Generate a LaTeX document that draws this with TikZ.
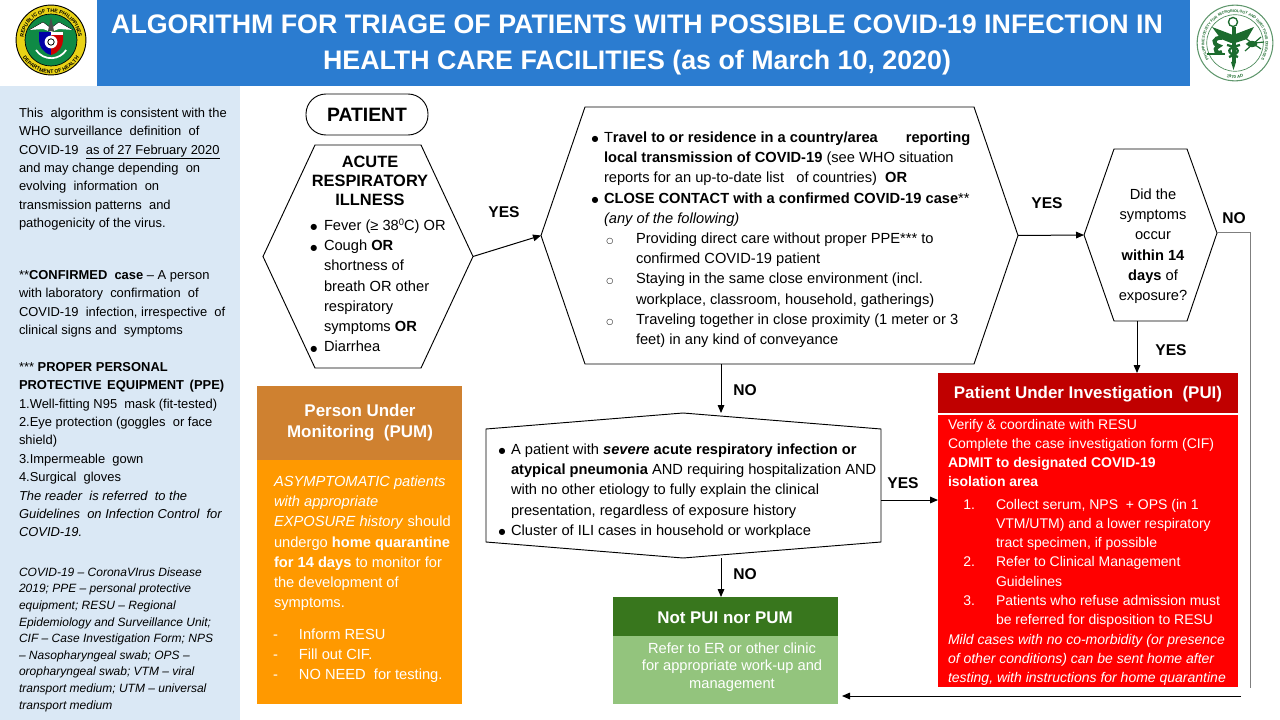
\documentclass[tikz,border=0pt]{standalone}
\usepackage{fontspec}
\setmainfont{Liberation Sans}
\newfontfamily\dejavu{DejaVu Sans}
\usetikzlibrary{calc,arrows.meta,decorations.text}
\definecolor{hdrblue}{HTML}{2B7CD0}
\definecolor{sideblue}{HTML}{DAE8F5}
\definecolor{pumhead}{HTML}{CF8130}
\definecolor{pumbody}{HTML}{FF9900}
\definecolor{puihead}{HTML}{C00000}
\definecolor{puibody}{HTML}{FF0000}
\definecolor{nothead}{HTML}{38761D}
\definecolor{notbody}{HTML}{93C47D}
\definecolor{seal}{HTML}{0F8A45}
\definecolor{sealy}{HTML}{E9D215}
\definecolor{psmid}{HTML}{1C6B2E}
\definecolor{greyline}{HTML}{7F7F7F}
\tikzset{
  x=0.75pt,y=-0.75pt,
  tx/.style={anchor=north west,inner sep=0pt,outer sep=0pt,align=left},
  tc/.style={anchor=north,inner sep=0pt,outer sep=0pt,align=center},
  fside/.style={font=\fontsize{9.7}{13.8}\selectfont},
  fsmall/.style={font=\fontsize{9}{12.45}\selectfont\itshape},
  fbody/.style={font=\fontsize{11}{15.2}\selectfont},
  fpui/.style={font=\fontsize{10.5}{14.4}\selectfont},
  fnot/.style={font=\fontsize{11}{13.1}\selectfont},
  lab/.style={inner sep=0pt,font=\fontsize{11.7}{14}\selectfont\bfseries},
  hdr/.style={inner sep=0pt,align=center,text=white,font=\fontsize{12.7}{15.7}\selectfont\bfseries},
  flow/.style={line width=0.75pt,-{Triangle[length=6pt,width=5pt]}},
  hexline/.style={line width=0.7pt,draw=black},
  greyflow/.style={line width=0.75pt,draw=greyline},
}
\newcommand{\region}[6][]{%
  \pgfmathsetmacro\rcx{(#3+#5)/2}\pgfmathsetmacro\rcy{(#4+#6)/2}%
  \pgfmathsetmacro\rw{(#5-#3)*0.75}\pgfmathsetmacro\rh{(#6-#4)*0.75}%
  \node[inner sep=0pt,outer sep=0pt,minimum width=\rw pt,minimum height=\rh pt,#1] (#2) at (\rcx,\rcy) {};}
\newcommand{\hexa}[2]{%
  \draw[hexline] (#1.west) -- ($(#1.north west)+(#2,0)$) -- ($(#1.north east)+(-#2,0)$) -- (#1.east)
   -- ($(#1.south east)+(-#2,0)$) -- ($(#1.south west)+(#2,0)$) -- cycle;}
\newcommand{\tb}[5][]{\node[tx,#1] (#2) at (#3,#4) {\rule{0pt}{10pt}#5};}
\newcommand{\tcb}[5][]{\node[tc,#1] (#2) at (#3,#4) {\rule{0pt}{10pt}#5};}
\newcommand{\bul}[1][4pt]{\llap{\raisebox{0.4pt}{\dejavu\fontsize{6}{6}\selectfont ●}\hspace{#1}}}
\newcommand{\sq}{\dejavu\fontsize{6}{6}\selectfont ○}
\begin{document}
\begin{tikzpicture}
\useasboundingbox (0,0) rectangle (1280,720);
% bands
\region[fill=hdrblue]{hdr}{97}{0}{1190}{86}
\region[fill=sideblue]{side}{0}{86}{240}{720}
\node[inner sep=0pt,align=center,text=white,font=\fontsize{20.1}{27}\selectfont\bfseries] (title) at (637,45)
  {ALGORITHM FOR TRIAGE OF PATIENTS WITH POSSIBLE COVID-19 INFECTION IN\\HEALTH CARE FACILITIES (as of March 10, 2020)};
% left logo
\begin{scope}[shift={(51,40)},y=0.75pt]
  \fill[sealy] (0,0) circle (26.2pt);
  \draw[black,line width=0.7pt] (0,0) circle (26.2pt);
  \fill[seal] (0,0) circle (19.5pt);
  \draw[black,line width=0.5pt] (0,0) circle (19.5pt);
  \path[postaction={decorate,decoration={text along path,text align=center,
     text={|\fontsize{3.9}{5}\selectfont\bfseries|REPUBLIC OF THE PHILIPPINES}}}]
     (190:20.6pt) arc[start angle=190,end angle=-10,radius=20.6pt];
  \path[postaction={decorate,decoration={text along path,text align=center,
     text={|\fontsize{3.9}{5}\selectfont\bfseries|DEPARTMENT OF HEALTH}}}]
     (207:25pt) arc[start angle=207,end angle=333,radius=25pt];
  % wings
  \fill[white] (-22,10) -- (-8,18) -- (0,12) -- (8,18) -- (22,10) -- (8,11) -- (0,8) -- (-8,11) -- cycle;
  \draw[black,line width=0.3pt] (-22,10) -- (-8,18) -- (0,12) -- (8,18) -- (22,10);
  \fill[black!70] (-3,9) -- (0,23) -- (3,9) -- cycle;
  % shield
  \fill[blue!65!black] (-12,8) -- (0,8) -- (0,-15) .. controls (-8,-13) and (-12,-6) .. (-12,0) -- cycle;
  \fill[red!80!black] (0,8) -- (12,8) -- (12,0) .. controls (12,-6) and (8,-13) .. (0,-15) -- cycle;
  \fill[white] (0,8) rectangle (12,5);
  \fill[white] (0,-2) circle (4.8pt);
  \draw[black,line width=0.6pt] (0,-2) circle (2.4pt);
  \draw[white,line width=1.3pt] (-15,-10) arc[start angle=213,end angle=327,radius=18];
\end{scope}
% right logo
\begin{scope}[shift={(1235,43)},y=0.75pt]
  \draw[line width=0.8pt,draw=psmid!70!white] (0,0) circle (28.4pt);
  \draw[line width=0.5pt,draw=psmid!80!white] (0,0) circle (21.2pt);
  \path[postaction={decorate,decoration={text along path,text align=center,
     text={|\fontsize{2.8}{4}\selectfont\bfseries\color{psmid}|PHILIPPINE SOCIETY FOR MICROBIOLOGY AND INFECTIOUS DISEASES}}}]
     (220:23pt) arc[start angle=220,end angle=-40,radius=23pt];
  \path[postaction={decorate,decoration={text along path,text align=center,
     text={|\fontsize{3.2}{4}\selectfont\bfseries\color{psmid}|1970 AD}}}]
     (250:26.5pt) arc[start angle=250,end angle=290,radius=26.5pt];
  \draw[line width=1pt,psmid] (-2,21) circle (3.4pt);
  \fill[psmid] (-3.5,16) rectangle (0.5,-20);
  \fill[psmid] (-1.5,-27) -- (-4,-19) -- (1,-19) -- cycle;
  \fill[psmid] (-23,16) -- (-2,8) -- (19,16) -- (12,4) -- (0,0) -- (-4,0) -- (-14,4) -- cycle;
  \draw[line width=1.7pt,psmid] (-8,-2) .. controls (6,-5) and (6,-10) .. (-6,-14);
  \draw[line width=1.7pt,psmid] (5,-2) .. controls (-9,-5) and (-9,-10) .. (3,-14);
  \draw[line width=3pt,psmid] (-13,5) .. controls (-22,6) and (-23,-1) .. (-16,-3) .. controls (-24,-7) and (-16,-12) .. (-13,-9);
  \draw[line width=2pt,psmid] (-28,-11) -- (-10,-11);
  \fill[psmid] (17,-1) ellipse (4pt and 2.4pt);
  \draw[line width=0.9pt,psmid] (10,5) -- (26,-6) (10,-8) -- (26,6) (11,-1) -- (29,1);
\end{scope}
% flow shapes
\region[draw,line width=0.7pt,rounded corners=15pt]{patient}{306}{94}{428}{135}
\node[inner sep=0pt,font=\fontsize{14.5}{16}\selectfont\bfseries] (patienttxt) at (patient) {PATIENT};
\region{h1}{263}{145}{473}{368}
\hexa{h1}{52}
\region{h2}{541}{107}{1018}{364}
\hexa{h2}{44}
\region{h3}{1084}{149}{1217}{321}
\draw[hexline] (h3.west) -- ($(h3.north west)+(30,0)$) -- ($(h3.north east)+(-30,0)$) -- ($(h3.east)+(0,-2)$)
   -- ($(h3.south east)+(-30,0)$) -- ($(h3.south west)+(30,0)$) -- cycle;
\region{h4}{486}{413}{881}{558}
\coordinate (xp) at (683,0);
\draw[hexline] (h4.north west |- 0,429) -- (h4.north -| xp) -- (h4.north east |- 0,429) -- (h4.south east |- 0,542) -- (h4.south -| xp) -- (h4.south west |- 0,542) -- cycle;
% coloured boxes
\region[fill=pumhead]{pumh}{257}{386}{462}{460}
\region[fill=pumbody]{pumb}{257}{460}{462}{704}
\node[hdr] (pumt) at (360,422.5) {Person Under\\Monitoring\ \ (PUM)};
\region[fill=puihead]{puih}{938}{373}{1238}{413}
\region[fill=puibody]{puib}{938}{415}{1238}{687}
\node[hdr] (puit) at (1088,394) {Patient Under Investigation\ \ (PUI)};
\region[fill=nothead]{noth}{613}{597}{838}{636}
\region[fill=notbody]{notb}{613}{636}{838}{704}
\node[hdr] (nott) at (725,618) {Not PUI nor PUM};
% connectors
\coordinate (xa) at (721,0);
\coordinate (xb) at (1137,0);
\coordinate (xc) at (1250,0);
\coordinate (xd) at (1241,0);
\coordinate (xe) at (842,0);
\coordinate (ya) at (0,688);
\coordinate (yb) at (0,696);
\coordinate (yc) at (0,500);
\draw[flow] (h1.east) -- (h2.west);
\draw[flow] (h2.east) -- (h3.west);
\draw[flow] (h3.south -| xb) -- (puih.north -| xb);
\draw[flow] (h2.south -| xa) -- (h4.north -| xa);
\draw[flow] (h4.south -| xa) -- (noth.north -| xa);
\draw[flow] (h4.east |- yc) -- (puib.west |- yc);
\draw[greyflow] ($(h3.east)+(0,-2)$) -| (xc |- ya);
\draw[flow] (xd |- yb) -- (xe |- yb);
% labels
\node[lab] (y1) at (504,212) {YES};
\node[lab] (y2) at (1047,203) {YES};
\node[lab] (n1) at (1234,218) {NO};
\node[lab] (y3) at (1171,350) {YES};
\node[lab] (n2) at (745,390) {NO};
\node[lab] (n3) at (745,574) {NO};
\node[lab] (y4) at (903,483) {YES};
% sidebar
\tb[fside]{s1}{19}{104}{This\ \ algorithm is consistent with the\\WHO surveillance\ \ definition\ \ of\\COVID-19\ \ \underline{as of 27 February 2020}\\and may change depending\ \ on\\evolving\ \ information\ \ on\\transmission patterns\ \ and\\pathogenicity of the virus.}
\tb[fside]{s2}{19}{266}{**\textbf{CONFIRMED\ \ case} -- A person\\with laboratory\ \ confirmation\ \ of\\COVID-19\ \ infection, irrespective\ \ of\\clinical signs and\ \ symptoms}
\tb[fside]{s3}{19}{358}{*** \textbf{PROPER PERSONAL}\\\textbf{PROTECTIVE\hspace{1.5pt} EQUIPMENT\hspace{1.5pt} (PPE)}\\1.Well-fitting N95\ \ mask (fit-tested)\\2.Eye protection (goggles\ \ or face\\shield)\\3.Impermeable\ \ gown\\4.Surgical\ \ gloves\\\textit{The reader\ \ is referred\ \ to the}\\\textit{Guidelines\ \ on Infection Control\ \ for}\\\textit{COVID-19.}}
\tb[fsmall]{s4}{19}{563}{COVID-19 -- CoronaVIrus Disease\\2019; PPE -- personal protective\\equipment; RESU -- Regional\\Epidemiology and Surveillance Unit;\\CIF -- Case Investigation Form; NPS\\-- Nasopharyngeal swab; OPS --\\oropharyngeal swab; VTM -- viral\\transport medium; UTM -- universal\\transport medium}
% hexagon 1 text
\tcb[font=\fontsize{12.3}{14.3}\selectfont\bfseries]{t1}{370}{154}{ACUTE\\RESPIRATORY\\ILLNESS}
\tb[fbody]{t1b}{324}{217}{\bul[5pt]Fever (≥ 38\raisebox{3.5pt}{\fontsize{7}{7}\selectfont 0}C) OR\\\bul[5pt]Cough \textbf{OR}\\shortness of\\breath OR other\\respiratory\\symptoms \textbf{OR}\\\bul[5pt]Diarrhea}
% hexagon 2 text
\tb[fbody]{t2}{604}{129}{\bul T\textbf{ravel to or residence in a country/area\hspace{21pt}reporting}\\\textbf{local transmission of COVID-19} (see WHO situation\\reports for an up-to-date list\ \ \ of countries)\ \ \textbf{OR}\\\bul\textbf{CLOSE CONTACT with a confirmed COVID-19 case}**\\\textit{(any of the following)}}
\tb[fbody]{t2b}{636}{230}{\llap{\sq\hspace{17pt}}Providing direct care without proper PPE*** to\\confirmed COVID-19 patient\\\llap{\sq\hspace{17pt}}Staying in the same close environment (incl.\\workplace, classroom, household, gatherings)\\\llap{\sq\hspace{17pt}}Traveling together in close proximity (1 meter or 3\\feet) in any kind of conveyance}
% hexagon 3 text
\tcb[fbody]{t3}{1153}{186}{Did the\\symptoms\\occur\\\textbf{within 14}\\\textbf{days} of\\exposure?}
% hexagon 4 text
\tb[fbody]{t4}{511}{441}{\bul A patient with \textbf{\textit{severe} acute respiratory infection or}\\\textbf{atypical pneumonia} AND requiring hospitalization AND\\with no other etiology to fully explain the clinical\\presentation, regardless of exposure history\\\bul Cluster of ILI cases in household or workplace}
% PUM body
\tb[fbody,text=white]{t5}{274}{473}{\textit{ASYMPTOMATIC patients}\\\textit{with appropriate}\\\textit{EXPOSURE history} should\\undergo \textbf{home quarantine}\\\textbf{for 14 days} to monitor for\\the development of\\symptoms.}
\tb[fbody,text=white]{t5b}{299}{626}{\llap{-\hspace{15.75pt}}Inform RESU\\\llap{-\hspace{15.75pt}}Fill out CIF.\\\llap{-\hspace{15.75pt}}NO NEED\ \ for testing.}
% PUI body
\tb[fpui,text=white]{t6}{948}{416}{Verify \& coordinate with RESU\\Complete the case investigation form (CIF)\\\textbf{ADMIT to designated COVID-19}\\\textbf{isolation area}}
\tb[fpui,text=white]{t6b}{996}{496}{\llap{1.\hspace{15.75pt}}Collect serum, NPS\ \ + OPS (in 1\\VTM/UTM) and a lower respiratory\\tract specimen, if possible\\\llap{2.\hspace{15.75pt}}Refer to Clinical Management\\Guidelines\\\llap{3.\hspace{15.75pt}}Patients who refuse admission must\\be referred for disposition to RESU}
\tb[fpui,text=white]{t6c}{948}{631}{\textit{Mild cases with no co-morbidity (or presence}\\\textit{of other conditions) can be sent home after}\\\textit{testing, with instructions for home quarantine}}
% Not PUI body
\tcb[fnot,text=white]{t7}{732}{640}{Refer to ER or other clinic\\for appropriate work-up and\\management}
\end{tikzpicture}
\end{document}
